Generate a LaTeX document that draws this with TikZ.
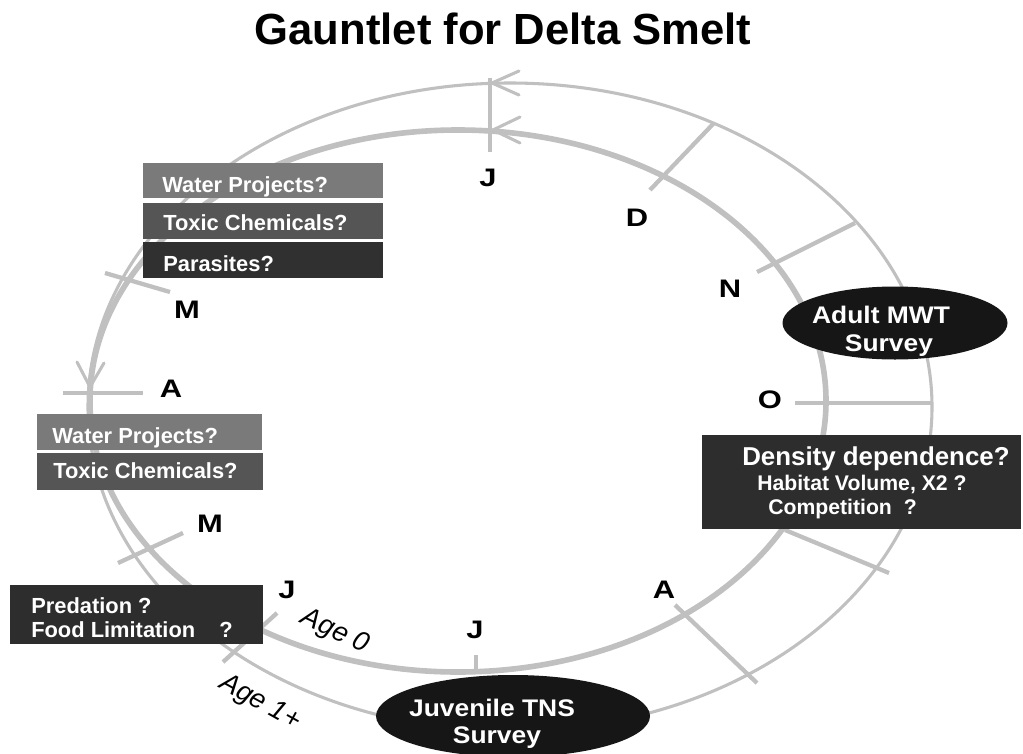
\documentclass[tikz,border=0pt]{standalone}
\usepackage{fontspec}
\setmainfont{Liberation Sans}
\usetikzlibrary{shapes.geometric}
\definecolor{ringc}{RGB}{192,192,192}
\definecolor{cA}{RGB}{122,122,122}
\definecolor{cB}{RGB}{85,85,85}
\definecolor{cC}{RGB}{48,48,48}
\definecolor{cD}{RGB}{45,45,45}
\definecolor{ellc}{RGB}{22,22,22}
\begin{document}
\begin{tikzpicture}[x=0.75pt,y=-0.75pt,
  thinring/.style={draw=ringc, line width=2.3pt},
  thickring/.style={draw=ringc, line width=4.2pt},
  tickline/.style={draw=ringc, line width=3.2pt},
  barb/.style={draw=ringc, line width=2.3pt, line cap=round, line join=round},
  qbox/.style={anchor=north west, inner sep=0pt, outer sep=0pt},
  boxtext/.style={anchor=base west, inner sep=0pt, text=white, font=\bfseries\fontsize{16.4}{19}\selectfont},
  mon/.style={anchor=base, inner sep=0pt, xscale=1.22, font=\bfseries\fontsize{19}{19}\selectfont},
  survey/.style={ellipse, fill=ellc, inner sep=0pt},
  survtext/.style={anchor=base, inner sep=0pt, xscale=1.1, text=white, font=\bfseries\fontsize{18}{18}\selectfont},
  agetext/.style={inner sep=0pt, font=\itshape\fontsize{20.5}{20.5}\selectfont},
]
\useasboundingbox (0,0) rectangle (1023,753);
\fill[white] (0,0) rectangle (1023,753);

% title
\node[anchor=base, inner sep=0pt, font=\bfseries\fontsize{32.7}{33}\selectfont] (title) at (503,44) {Gauntlet for Delta Smelt};

% rings
\draw[thinring] (510,407) ellipse [x radius=316.5pt, y radius=243pt];
\draw[thickring] (458,401) ellipse [x radius=276pt, y radius=203.25pt];

% month ticks
\draw[tickline] (490,78) -- (490,152);
\draw[tickline] (650,190) -- (714,123);
\draw[tickline] (757,272) -- (855,223);
\draw[tickline] (795,403) -- (933,403);
\draw[tickline] (785,530) -- (889,573);
\draw[tickline] (675,605) -- (757,683);
\draw[tickline] (476,655) -- (476,672);
\draw[tickline] (277,613) -- (223,662);
\draw[tickline] (183,533) -- (118,563);
\draw[tickline] (63,393) -- (143,393);
\draw[tickline] (105,273) -- (170,292);

% arrowheads
\draw[barb] (519,71) -- (492,83) -- (519,95);
\draw[barb] (520,117) -- (493,130) -- (520,143);
\draw[barb] (77,362) -- (90,387) -- (104,363);

% boxes
\node[qbox, fill=cA, minimum width=180pt, minimum height=26.6pt] (b1) at (143,163) {};
\node[qbox, fill=cB, minimum width=180pt, minimum height=27pt] (b2) at (143,203) {};
\node[qbox, fill=cC, minimum width=180pt, minimum height=27pt] (b3) at (143,242) {};
\node[qbox, fill=cA, minimum width=168.75pt, minimum height=27pt] (b4) at (37,414) {};
\node[qbox, fill=cB, minimum width=169.5pt, minimum height=27.75pt] (b5) at (37,453) {};
\node[qbox, fill=cD, minimum width=189.75pt, minimum height=44.25pt] (b6) at (10,585) {};
\node[qbox, fill=cD, minimum width=239.25pt, minimum height=70.5pt] (b7) at (702,435) {};

\node[boxtext] (t1) at (162,192) {Water Projects?};
\node[boxtext] (t2) at (163,230.7) {Toxic Chemicals?};
\node[boxtext] (t3) at (163,271.7) {Parasites?};
\node[boxtext] (t4) at (52,443.3) {Water Projects?};
\node[boxtext] (t5) at (53,478) {Toxic Chemicals?};
\node[boxtext] (t6) at (31,613) {Predation ?};
\node[boxtext] (t7) at (31,637) {Food Limitation\hspace*{18pt}?};
\node[boxtext, font=\bfseries\fontsize{19.4}{20}\selectfont] (t8) at (742,465) {Density dependence?};
\node[boxtext, font=\bfseries\fontsize{15.9}{17}\selectfont] (t9) at (757,490) {Habitat Volume, X2 ?};
\node[boxtext, font=\bfseries\fontsize{15.9}{17}\selectfont] (t10) at (768,514) {Competition\hspace*{9pt}?};

% survey ellipses
\node[survey, minimum width=168.75pt, minimum height=54.75pt] (adult) at (895,323) {};
\node[survtext] (adult1) at (881,323.3) {Adult MWT};
\node[survtext] (adult2) at (889,351.7) {Survey};
\node[survey, minimum width=205.5pt, minimum height=61.5pt] (juv) at (513,716) {};
\node[survtext] (juv1) at (492,716.7) {Juvenile TNS};
\node[survtext] (juv2) at (497,743) {Survey};

% month labels
\node[mon] (mJ1) at (488,186) {J};
\node[mon] (mD) at (637,226) {D};
\node[mon] (mN) at (730,297) {N};
\node[mon] (mO) at (770,408) {O};
\node[mon] (mA1) at (664,598) {A};
\node[mon] (mJ2) at (475,638) {J};
\node[mon] (mJ3) at (287,598) {J};
\node[mon] (mM1) at (210,532) {M};
\node[mon] (mA2) at (171,397) {A};
\node[mon] (mM2) at (187,318) {M};

% age labels
\node[agetext, rotate=-25] (age0) at (335,632) {Age 0};
\node[agetext, rotate=-29] (age1) at (260,703) {Age 1+};
\end{tikzpicture}
\end{document}
